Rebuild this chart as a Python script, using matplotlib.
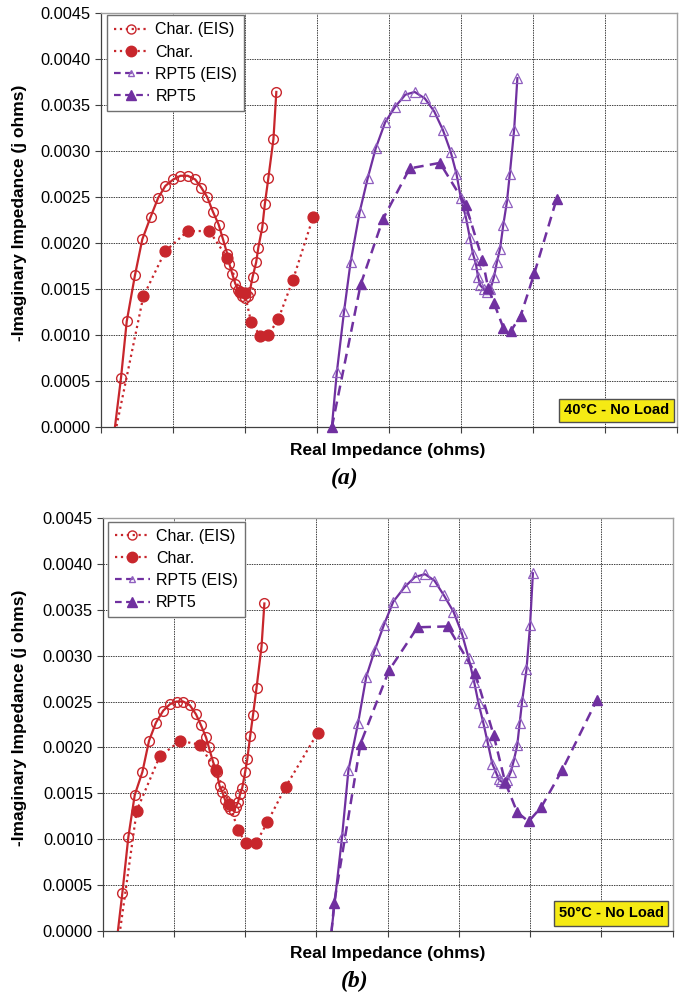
import matplotlib
matplotlib.use("Agg")
import matplotlib.pyplot as plt
from matplotlib.lines import Line2D
from matplotlib.patches import Rectangle
import numpy as np

plt.rcParams['font.family'] = ['Liberation Sans', 'DejaVu Sans']

# ---------------- data (x in grid units of real impedance) ----------------
# Panel (a) 40°C
a_char_eis_x = [0.153, 0.285, 0.364, 0.478, 0.58, 0.694, 0.80, 0.90, 1.01, 1.11, 1.21, 1.315, 1.40, 1.48,
                1.56, 1.64, 1.70, 1.76, 1.79, 1.83, 1.87, 1.91, 1.96, 2.0, 2.05, 2.07, 2.11, 2.16, 2.19,
                2.245, 2.28, 2.33, 2.40, 2.44]
a_char_eis_y = [-0.0003, 0.00054, 0.00115, 0.00165, 0.00204, 0.00228, 0.00249, 0.00262, 0.00269, 0.00273,
                0.00273, 0.00269, 0.0026, 0.0025, 0.00234, 0.0022, 0.00204, 0.00188, 0.00177, 0.00166,
                0.00156, 0.00149, 0.00143, 0.0014, 0.00143, 0.00147, 0.00163, 0.00179, 0.00195, 0.00217,
                0.00242, 0.00271, 0.00313, 0.00364]
a_char_x = [0.14, 0.594, 0.897, 1.21, 1.51, 1.76, 1.94, 2.0, 2.09, 2.22, 2.33, 2.47, 2.67, 2.95]
a_char_y = [-0.0003, 0.00142, 0.00191, 0.00213, 0.00213, 0.00184, 0.00147, 0.00146, 0.00114, 0.00099,
            0.0010, 0.00118, 0.0016, 0.00228]
a_rpt_eis_x = [3.175, 3.28, 3.38, 3.47, 3.597, 3.71, 3.82, 3.95, 4.09, 4.23, 4.36, 4.50, 4.63, 4.75, 4.86,
               4.94, 5.0, 5.07, 5.125, 5.17, 5.21, 5.24, 5.27, 5.32, 5.37, 5.41, 5.46, 5.50, 5.545, 5.59,
               5.64, 5.68, 5.74, 5.785]
a_rpt_eis_y = [-0.0003, 0.0006, 0.00126, 0.00179, 0.00234, 0.00271, 0.00303, 0.00331, 0.00348, 0.00361,
               0.00364, 0.00357, 0.00343, 0.00323, 0.00299, 0.00275, 0.00249, 0.00228, 0.00206, 0.00188,
               0.00177, 0.00163, 0.00154, 0.0015, 0.00147, 0.0015, 0.00163, 0.00179, 0.00194, 0.0022,
               0.00245, 0.00275, 0.00323, 0.00379]
a_rpt_x = [3.21, 3.61, 3.92, 4.29, 4.71, 5.07, 5.3, 5.38, 5.46, 5.59, 5.69, 5.83, 6.02, 6.33]
a_rpt_y = [0.0, 0.00155, 0.00226, 0.00281, 0.00287, 0.00241, 0.00182, 0.00151, 0.00135, 0.00108,
           0.00104, 0.00121, 0.00167, 0.00248]

# Panel (b) 50°C
b_char_eis_x = [0.169, 0.276, 0.36, 0.45, 0.557, 0.65, 0.748, 0.85, 0.944, 1.037, 1.13, 1.224, 1.31, 1.38,
                1.45, 1.49, 1.55, 1.6, 1.64, 1.68, 1.72, 1.76, 1.79, 1.84, 1.87, 1.9, 1.93, 1.96, 2.0,
                2.03, 2.07, 2.11, 2.16, 2.23, 2.27]
b_char_eis_y = [-0.0003, 0.00041, 0.00102, 0.00148, 0.00173, 0.00207, 0.00227, 0.0024, 0.00247, 0.0025,
                0.0025, 0.00246, 0.00236, 0.00224, 0.00211, 0.0020, 0.00184, 0.00173, 0.00158, 0.00151,
                0.00142, 0.00136, 0.00133, 0.00131, 0.00135, 0.0014, 0.00149, 0.00156, 0.00173, 0.00187,
                0.00212, 0.00235, 0.00265, 0.0031, 0.00357]
b_char_x = [0.19, 0.478, 0.80, 1.087, 1.36, 1.59, 1.78, 1.9, 2.01, 2.15, 2.31, 2.57, 3.02]
b_char_y = [-0.0003, 0.00131, 0.0019, 0.00207, 0.00203, 0.00175, 0.00138, 0.0011, 0.00095, 0.00095,
            0.00118, 0.00157, 0.00216]
b_rpt_eis_x = [3.17, 3.36, 3.45, 3.587, 3.70, 3.82, 3.95, 4.08, 4.24, 4.385, 4.526, 4.657, 4.79, 4.925,
               5.04, 5.136, 5.216, 5.277, 5.34, 5.40, 5.47, 5.52, 5.56, 5.59, 5.64, 5.68, 5.73, 5.77,
               5.82, 5.855, 5.89, 5.95, 6.0, 6.04]
b_rpt_eis_y = [-0.0003, 0.00102, 0.00175, 0.00227, 0.00277, 0.00306, 0.00334, 0.00359, 0.00375, 0.00386,
               0.00389, 0.00382, 0.00366, 0.00348, 0.00325, 0.00298, 0.00271, 0.00248, 0.00228, 0.00207,
               0.00182, 0.00173, 0.00165, 0.00163, 0.00161, 0.00164, 0.00173, 0.00185, 0.00202, 0.00227,
               0.00251, 0.00285, 0.00333, 0.0039]
b_rpt_x = [3.19, 3.25, 3.62, 4.02, 4.42, 4.845, 5.23, 5.49, 5.65, 5.82, 5.98, 6.16, 6.45, 6.94]
b_rpt_y = [-0.0002, 0.0003, 0.00204, 0.00284, 0.00331, 0.00332, 0.00281, 0.00213, 0.00162, 0.00129,
           0.00119, 0.00135, 0.00175, 0.00252]

legend_labels = ["Char. (EIS)", "Char.", "RPT5 (EIS)", "RPT5"]
y_ticks = [0.0, 0.0005, 0.0010, 0.0015, 0.0020, 0.0025, 0.0030, 0.0035, 0.0040, 0.0045]
x_grid = list(range(0, 9))
box_labels = ["40°C - No Load", "50°C - No Load"]
captions = ["(a)", "(b)"]
xlabel = "Real Impedance (ohms)"
ylabel = "-Imaginary Impedance (j ohms)"

RED = '#C8262C'
PURPLE = '#7030A0'

W, H = 683, 997
fig = plt.figure(figsize=(W / 100, H / 100), dpi=100)


def px_axes(l, r, t, b):
    return fig.add_axes([l / W, 1 - b / H, (r - l) / W, (b - t) / H])


def draw_panel(ax, cex, cey, cx, cy, rex, rey, rx, ry, rpt_clip):
    ax.plot(cex, cey, '-', color=RED, lw=1.6, marker='o', ms=7, mfc='none', mec=RED, mew=1.0, zorder=4)
    ax.plot(cx, cy, ':', color=RED, lw=1.6, marker='o', ms=7.8, mfc=RED, mec=RED, zorder=5)
    ax.plot(rex, rey, '-', color=PURPLE, lw=1.6, marker='^', ms=6.5, mfc='none', mec='#8F5FBF',
            mew=0.9, zorder=4)
    ax.plot(rx, ry, '--', color=PURPLE, lw=1.8, dashes=(4, 2.5), marker='^', ms=7.5, mfc=PURPLE,
            mec=PURPLE, zorder=5, clip_on=rpt_clip)
    ax.set_xlim(0, 8)
    ax.set_ylim(0, 0.0045)
    ax.set_xticks(x_grid)
    ax.set_xticklabels([])
    ax.set_yticks(y_ticks)
    ax.set_yticklabels([f"{v:.4f}" for v in y_ticks], fontsize=11.8)
    ax.tick_params(direction='out', length=4, width=0.8, color='#404040', pad=3)
    ax.grid(True, color='#404040', linestyle=(0, (1.5, 1.0)), lw=0.7)
    ax.set_axisbelow(True)
    for s in ['top', 'right']:
        ax.spines[s].set_color('#A0A0A0')
        ax.spines[s].set_linewidth(1.0)
    for s in ['left', 'bottom']:
        ax.spines[s].set_color('#404040')
        ax.spines[s].set_linewidth(0.9)

    handles = [
        Line2D([], [], color=RED, ls=':', lw=1.6, marker='o', ms=6.5, mfc='none', mec=RED),
        Line2D([], [], color=RED, ls=':', lw=1.6, marker='o', ms=7.5, mfc=RED, mec=RED),
        Line2D([], [], color=PURPLE, ls='--', lw=1.6, dashes=(3, 2), marker='^', ms=5, mfc='none',
               mec='#8F5FBF'),
        Line2D([], [], color=PURPLE, ls='--', lw=1.6, dashes=(3, 2), marker='^', ms=7, mfc=PURPLE,
               mec=PURPLE),
    ]
    return handles


# Panel (a)
axa = px_axes(100.5, 677, 12.7, 427.3)
ha = draw_panel(axa, a_char_eis_x, a_char_eis_y, a_char_x, a_char_y, a_rpt_eis_x, a_rpt_eis_y,
                a_rpt_x, a_rpt_y, False)
# Panel (b)
axb = px_axes(102.7, 672.5, 518.3, 930.5)
hb = draw_panel(axb, b_char_eis_x, b_char_eis_y, b_char_x, b_char_y, b_rpt_eis_x, b_rpt_eis_y,
                b_rpt_x, b_rpt_y, True)

for ax, h, (lx, ty, axl, axw, axt, axh) in [
        (axa, ha, (106.7, 15.3, 100.5, 576.5, 12.7, 414.6)),
        (axb, hb, (107.5, 521.5, 102.7, 569.8, 518.3, 412.2))]:
    leg = ax.legend(h, legend_labels, loc='upper left',
                    bbox_to_anchor=((lx - axl) / axw, 1 - (ty - axt) / axh),
                    borderaxespad=0, fontsize=11.5, frameon=True, fancybox=False,
                    handlelength=2.2, handletextpad=0.4, labelspacing=0.45, borderpad=0.45,
                    edgecolor='#707070', framealpha=1)
    leg.get_frame().set_linewidth(1.0)
    leg.set_zorder(10)

# yellow label boxes
for ax, (x0, x1, y0, y1), txt in [(axa, (0.7958, 0.9948, 0.0135, 0.0683), box_labels[0]),
                                  (axb, (0.792, 0.9926, 0.0109, 0.0723), box_labels[1])]:
    ax.add_patch(Rectangle((x0, y0), x1 - x0, y1 - y0, transform=ax.transAxes, facecolor='#F5EA14',
                           edgecolor='#505050', lw=1.0, zorder=11, clip_on=False))
    ax.text((x0 + x1) / 2, (y0 + y1) / 2, txt, transform=ax.transAxes, ha='center', va='center',
            fontsize=10.5, fontweight='bold', family=['Liberation Sans Narrow', 'Liberation Sans'],
            zorder=12)

# axis labels and captions
for (xl_y, cap_y, yl_y, cap_x, cap) in [(450, 478, 213, 345, captions[0]),
                                        (953.5, 981, 718, 355, captions[1])]:
    fig.text(388 / W, 1 - xl_y / H, xlabel, ha='center', va='center', fontsize=12.5, fontweight='bold')
    fig.text(cap_x / W, 1 - cap_y / H, cap, ha='center', va='center', fontsize=17, fontweight='bold',
             style='italic', family=['Liberation Serif', 'DejaVu Serif'])
    fig.text(20 / W, 1 - yl_y / H, ylabel, ha='center', va='center', rotation=90, fontsize=12.5,
             fontweight='bold')

fig.savefig('out.png', dpi=100)
